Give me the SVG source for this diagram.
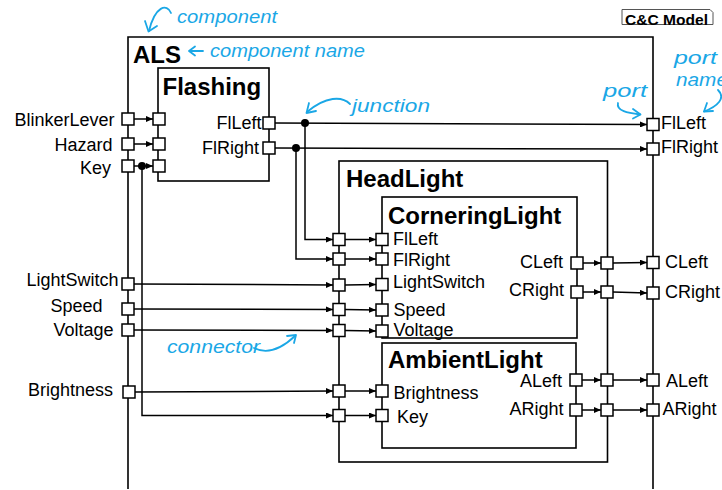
<svg xmlns="http://www.w3.org/2000/svg" width="722" height="490" viewBox="0 0 722 490">
<style>
.box{fill:none;stroke:#000;stroke-width:1.6}
.port{fill:#fff;stroke:#000;stroke-width:1.5}
.conn{fill:none;stroke:#000;stroke-width:1.5}
.arr{marker-end:url(#ah)}
.dot{fill:#000}
.title{font-family:"Liberation Sans",Arial,sans-serif;font-weight:bold;font-size:24px;fill:#000}
.lbl{font-family:"Liberation Sans",Arial,sans-serif;font-size:18px;fill:#000}
.end{text-anchor:end}
.note{font-family:"Comic Sans MS","Liberation Sans",sans-serif;font-style:italic;fill:#1aa7e6;font-size:19px}
.nc{fill:none;stroke:#1aa7e6;stroke-width:1.8;stroke-linecap:round;stroke-linejoin:round}
</style>
<defs>
<marker id="ah" markerUnits="userSpaceOnUse" markerWidth="7" markerHeight="6" refX="7" refY="3" orient="auto">
<path d="M0,0 L7,3 L0,6 z" fill="#000"/>
</marker>
</defs>
<rect width="722" height="490" fill="#fff"/>

<g id="connectors">
<path class="conn arr" d="M134,119 H153"/>
<path class="conn arr" d="M134,144 H153"/>
<path class="conn arr" d="M134,166 H153"/>
<path class="conn arr" d="M142,166 V415.5 H333"/>
<circle class="dot" cx="142" cy="166" r="4"/>
<path class="conn arr" d="M275,123 L647,124.5"/>
<path class="conn arr" d="M305,123 V239.5 H333"/>
<circle class="dot" cx="305" cy="123" r="4"/>
<path class="conn arr" d="M275,148 L647,149"/>
<path class="conn arr" d="M296,148 V259 H333"/>
<circle class="dot" cx="296" cy="148" r="4"/>
<path class="conn arr" d="M134,284 L333,285"/>
<path class="conn arr" d="M134,309 L333,309.5"/>
<path class="conn arr" d="M134,330 L333,330.5"/>
<path class="conn arr" d="M134,392 L333,391"/>
<path class="conn arr" d="M345,239.5 H376"/>
<path class="conn arr" d="M345,259 H376"/>
<path class="conn arr" d="M345,285 L376,284.5"/>
<path class="conn arr" d="M345,309.5 L376,310"/>
<path class="conn arr" d="M345,330.5 L376,331"/>
<path class="conn arr" d="M345,391 H376"/>
<path class="conn arr" d="M345,415.5 H376"/>
<path class="conn arr" d="M583,263 H601"/>
<path class="conn arr" d="M613,263 L647,262.5"/>
<path class="conn arr" d="M583,292 H601"/>
<path class="conn arr" d="M613,292 L647,293"/>
<path class="conn arr" d="M582,380 H601"/>
<path class="conn arr" d="M613,380 H647"/>
<path class="conn arr" d="M582,410 H601"/>
<path class="conn arr" d="M613,410 H647"/>
</g>

<g id="ALS">
<path class="box" d="M128,489 V37 H653 V489"/>
<text class="title" x="133" y="63">ALS</text>
<rect class="port" x="122" y="113" width="12" height="12"/>
<rect class="port" x="122" y="138" width="12" height="12"/>
<rect class="port" x="122" y="160" width="12" height="12"/>
<rect class="port" x="122" y="278" width="12" height="12"/>
<rect class="port" x="122" y="303" width="12" height="12"/>
<rect class="port" x="122" y="324" width="12" height="12"/>
<rect class="port" x="123" y="386" width="12" height="12"/>
<rect class="port" x="647" y="118.5" width="12" height="12"/>
<rect class="port" x="647" y="143" width="12" height="12"/>
<rect class="port" x="647" y="256.5" width="12" height="12"/>
<rect class="port" x="647" y="287" width="12" height="12"/>
<rect class="port" x="647" y="374" width="12" height="12"/>
<rect class="port" x="647" y="404" width="12" height="12"/>
<text class="lbl end" x="114.5" y="125.5">BlinkerLever</text>
<text class="lbl end" x="112.5" y="150.5">Hazard</text>
<text class="lbl end" x="111" y="173.5">Key</text>
<text class="lbl end" x="118.5" y="286">LightSwitch</text>
<text class="lbl end" x="102.5" y="312">Speed</text>
<text class="lbl end" x="113.5" y="335.5">Voltage</text>
<text class="lbl end" x="113" y="396">Brightness</text>
<text class="lbl" x="661" y="128.5">FlLeft</text>
<text class="lbl" x="661" y="153">FlRight</text>
<text class="lbl" x="665" y="268">CLeft</text>
<text class="lbl" x="665" y="298">CRight</text>
<text class="lbl" x="666" y="387">ALeft</text>
<text class="lbl" x="662.5" y="415">ARight</text>
</g>

<g id="Flashing">
<rect class="box" x="158" y="68" width="111" height="113"/>
<text class="title" x="162.5" y="94.5">Flashing</text>
<rect class="port" x="153" y="113" width="12" height="12"/>
<rect class="port" x="153" y="138" width="12" height="12"/>
<rect class="port" x="153" y="160" width="12" height="12"/>
<rect class="port" x="263" y="117" width="12" height="12"/>
<rect class="port" x="263" y="142" width="12" height="12"/>
<text class="lbl end" x="261.5" y="128.5">FlLeft</text>
<text class="lbl end" x="259" y="154">FlRight</text>
</g>

<g id="HeadLight">
<rect class="box" x="339" y="161" width="268.5" height="301"/>
<text class="title" x="346" y="187">HeadLight</text>
<rect class="port" x="333" y="233.5" width="12" height="12"/>
<rect class="port" x="333" y="253" width="12" height="12"/>
<rect class="port" x="333" y="279" width="12" height="12"/>
<rect class="port" x="333" y="303.5" width="12" height="12"/>
<rect class="port" x="333" y="324.5" width="12" height="12"/>
<rect class="port" x="333" y="385" width="12" height="12"/>
<rect class="port" x="333" y="409.5" width="12" height="12"/>
<rect class="port" x="601" y="257" width="12" height="12"/>
<rect class="port" x="601" y="286" width="12" height="12"/>
<rect class="port" x="601" y="374" width="12" height="12"/>
<rect class="port" x="601" y="404" width="12" height="12"/>
</g>

<g id="CorneringLight">
<rect class="box" x="382" y="197" width="195" height="141"/>
<text class="title" x="388" y="223.5">CorneringLight</text>
<rect class="port" x="376" y="233.5" width="12" height="12"/>
<rect class="port" x="376" y="253" width="12" height="12"/>
<rect class="port" x="376" y="278.5" width="12" height="12"/>
<rect class="port" x="376" y="304" width="12" height="12"/>
<rect class="port" x="376" y="325" width="12" height="12"/>
<rect class="port" x="571" y="257" width="12" height="12"/>
<rect class="port" x="571" y="286" width="12" height="12"/>
<text class="lbl" x="393" y="244.5">FlLeft</text>
<text class="lbl" x="393" y="266">FlRight</text>
<text class="lbl" x="393" y="288">LightSwitch</text>
<text class="lbl" x="393.5" y="316">Speed</text>
<text class="lbl" x="393.5" y="336">Voltage</text>
<text class="lbl end" x="563" y="268">CLeft</text>
<text class="lbl end" x="564" y="296">CRight</text>
</g>

<g id="AmbientLight">
<rect class="box" x="382" y="343" width="194" height="105"/>
<text class="title" x="388" y="368">AmbientLight</text>
<rect class="port" x="376" y="385" width="12" height="12"/>
<rect class="port" x="376" y="409.5" width="12" height="12"/>
<rect class="port" x="570" y="374" width="12" height="12"/>
<rect class="port" x="570" y="404" width="12" height="12"/>
<text class="lbl" x="393.5" y="398.5">Brightness</text>
<text class="lbl" x="397" y="423">Key</text>
<text class="lbl end" x="562" y="387">ALeft</text>
<text class="lbl end" x="563.5" y="414.5">ARight</text>
</g>

<g id="legend">
<path d="M622,9.5 H710 L713,12.5 V24.5 H622 Z" fill="#fff" stroke="#555" stroke-width="1"/>
<text x="625" y="24.5" font-family="Liberation Sans, Arial, sans-serif" font-weight="bold" font-size="15" textLength="83" lengthAdjust="spacingAndGlyphs">C&amp;C Model</text>
</g>

<g id="annotations">
<text class="note" x="177" y="23" font-size="18" textLength="100" lengthAdjust="spacingAndGlyphs">component</text>
<path class="nc" d="M171,13 C167,3 155,6 149,31"/>
<path class="nc" d="M145,21 L148.5,31.5 L157,26"/>
<text class="note" x="210" y="57" textLength="155" lengthAdjust="spacingAndGlyphs">component name</text>
<path class="nc" d="M203,51 H189 M195,46.5 L189,51 L195,55.5"/>
<text class="note" x="352" y="111.5" font-size="18" textLength="78" lengthAdjust="spacingAndGlyphs">junction</text>
<path class="nc" d="M350,104 C342,96 326,96 307,112"/>
<path class="nc" d="M309,103 L306.5,113 L316,111"/>
<text class="note" x="603" y="97" font-size="18" textLength="44" lengthAdjust="spacingAndGlyphs">port</text>
<path class="nc" d="M618,103 C616,111 628,113 640,114.5"/>
<path class="nc" d="M633,109 L640.5,114.5 L633,118.5"/>
<text class="note" x="674" y="63.5" font-size="18" textLength="43" lengthAdjust="spacingAndGlyphs">port</text>
<text class="note" x="676" y="86" font-size="18" textLength="52" lengthAdjust="spacingAndGlyphs">name</text>
<path class="nc" d="M718,90 C726,98 718,106 704,111.5"/>
<path class="nc" d="M707,103 L704,111.5 L713,111"/>
<text class="note" x="167" y="352.5" font-size="20" textLength="93" lengthAdjust="spacingAndGlyphs">connector</text>
<path class="nc" d="M254,348 C264,353 278,352 295,336"/>
<path class="nc" d="M287,336 L296,335 L294,343"/>
</g>
</svg>
